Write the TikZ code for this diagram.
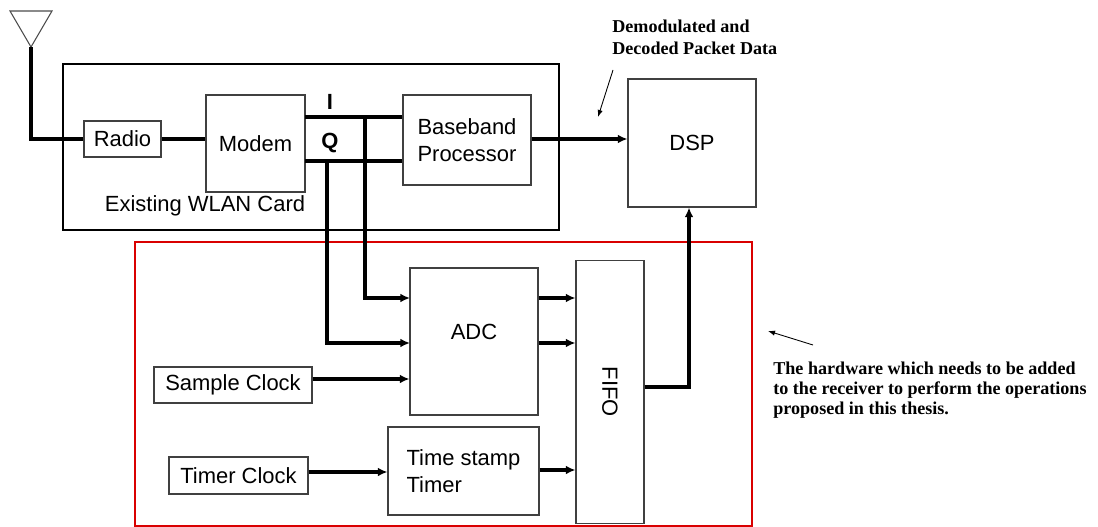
\documentclass[tikz,border=0pt]{standalone}
\usepackage{fontspec}
\setmainfont{Liberation Sans}
\newfontfamily\annfont{Liberation Serif}
\usetikzlibrary{arrows.meta}
\begin{document}
\begin{tikzpicture}[x=0.02cm,y=-0.02cm,
  blk/.style={draw=black!75,line width=0.6pt,inner sep=0pt,align=center,font=\fontsize{12.5}{15}\selectfont},
  wire/.style={line width=1.9pt},
  arr/.style={line width=1.9pt,-{Latex[length=5.5pt,width=5pt]}},
  thin/.style={line width=0.5pt,-{Latex[length=4pt,width=3pt]}},
  ann/.style={font=\annfont\bfseries\fontsize{10.3}{12.4}\selectfont,align=left,inner sep=0pt,anchor=north west}]
\useasboundingbox (0,0) rectangle (1098,527);
% containers
\node[draw=black,line width=1.2pt,minimum width=9.92cm,minimum height=3.32cm,inner sep=0pt] (wlan) at (311,147) {};
\node[draw=red!85!black,line width=0.8pt,minimum width=12.34cm,minimum height=5.68cm,inner sep=0pt] (hw) at (443.5,384) {};
% blocks
\node[blk,minimum width=1.54cm,minimum height=0.72cm] (radio) at (122.5,139) {Radio};
\node[blk,minimum width=1.98cm,minimum height=1.94cm] (modem) at (255.5,143.5) {Modem};
\node[blk,minimum width=2.56cm,minimum height=1.8cm] (bb) at (467,140) {Baseband\\Processor};
\node[blk,minimum width=2.56cm,minimum height=2.56cm] (dsp) at (692,143) {DSP};
\node[blk,minimum width=2.56cm,minimum height=2.94cm,text depth=0.4cm] (adc) at (474,341.5) {ADC};
\node[blk,minimum width=1.36cm,minimum height=5.26cm] (fifo) at (610,392) {};
\node[font=\fontsize{12.5}{15}\selectfont,rotate=-90] (fifol) at (fifo.center) {FIFO};
\node[blk,minimum width=3.16cm,minimum height=0.72cm] (sclk) at (233,385) {Sample Clock};
\node[blk,minimum width=2.78cm,minimum height=0.74cm] (tclk) at (238.5,475.5) {Timer Clock};
\node[blk,minimum width=3.02cm,minimum height=1.76cm,align=left] (tst) at (463.5,471) {Time stamp\\Timer};
\node[font=\fontsize{12.5}{15}\selectfont] (wlanl) at (205,206) {Existing WLAN Card};
\node[font=\bfseries\fontsize{12.5}{15}\selectfont] (il) at (330,102) {I};
\node[font=\bfseries\fontsize{12.5}{15}\selectfont] (ql) at (330,143) {Q};
% antenna
\coordinate (ant) at (31,47);
\draw[black!70,line width=0.6pt] (10,11) -- (52,11) -- (ant) -- cycle;
\draw[wire] (ant) -- (ant |- radio.west) -- (radio.west);
\draw[wire] (radio.east) -- (modem.west |- radio.east);
% I and Q
\coordinate (iL) at (305,117); \coordinate (qL) at (305,161);
\draw[wire] (iL) -- (bb.west |- iL);
\draw[wire] (qL) -- (bb.west |- qL);
\coordinate (iT) at (365,117); \coordinate (qT) at (327,161);
\coordinate (adcI) at (410,298); \coordinate (adcQ) at (410,343);
\draw[arr] (iT) -- (iT |- adcI) -- (adcI);
\draw[arr] (qT) -- (qT |- adcQ) -- (adcQ);
% baseband to dsp
\draw[arr] (bb.east |- 0,139) -- (dsp.west |- 0,139);
% clocks
\draw[arr] (sclk.east |- 0,379) -- (adc.west |- 0,379);
\draw[arr] (tclk.east |- 0,472) -- (tst.west |- 0,472);
% adc to fifo
\draw[arr] (adc.east |- adcI) -- (fifo.west |- adcI);
\draw[arr] (adc.east |- adcQ) -- (fifo.west |- adcQ);
\draw[arr] (tst.east |- 0,470) -- (fifo.west |- 0,470);
% fifo to dsp
\coordinate (fo) at (fifo.east |- 0,387);
\coordinate (up) at (689,387);
\draw[arr] (fo) -- (up) -- (up |- dsp.south);
% annotations
\node[ann] (demod) at (612,20) {Demodulated and\\Decoded Packet Data};
\coordinate (dpt) at (598,117);
\draw[thin] (613,70) -- (dpt);
\node[ann,font=\annfont\bfseries\fontsize{10.3}{11.3}\selectfont] (hwl) at (773,362) {The hardware which needs to be added\\to the receiver to perform the operations\\proposed in this thesis.};
\coordinate (hpt) at (768,331);
\draw[thin] (813,345) -- (hpt);
\end{tikzpicture}
\end{document}
